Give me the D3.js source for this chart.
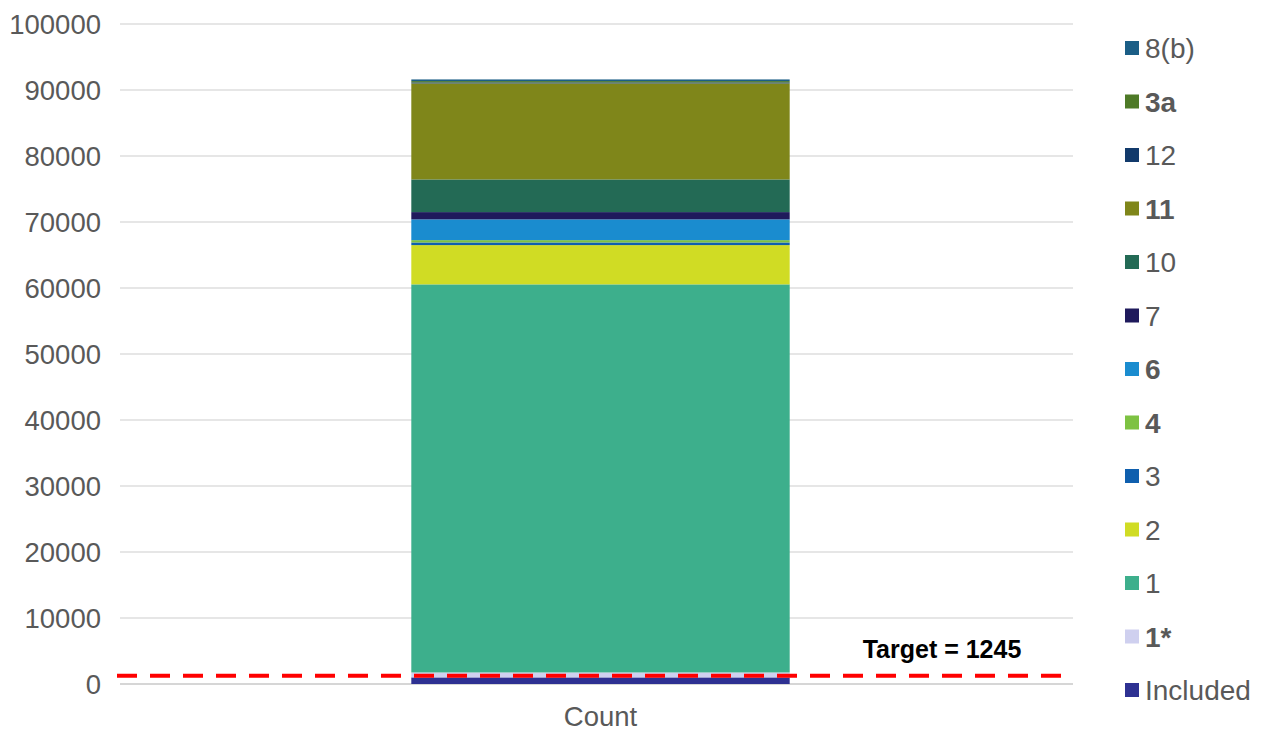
<!DOCTYPE html>
<html>
<head>
<meta charset="utf-8">
<script src="https://cdn.jsdelivr.net/npm/d3@7"></script>
<style>
  body { margin: 0; background: #fff; }
  svg { display: block; font-family: "Liberation Sans", Arial, sans-serif; }
  .tick-label { fill: #595959; font-size: 27.5px; }
  .legend-label { fill: #595959; font-size: 28px; }
  .legend-label.bold { font-weight: bold; font-size: 28px; }
  .target-label { fill: #000; font-size: 25px; font-weight: bold; }
</style>
</head>
<body>
<div id="chart"></div>
<script>
// data
const categories = ["Count"];
const seriesNames = ["Included", "1*", "1", "2", "3", "4", "6", "7", "10", "11", "12", "3a", "8(b)"];
const seriesValues = [1000, 750, 58800, 5950, 400, 350, 3150, 1100, 4950, 14550, 150, 200, 250];
const yTicks = [0, 10000, 20000, 30000, 40000, 50000, 60000, 70000, 80000, 90000, 100000];
const target = 1245;
const targetText = "Target = 1245";

// styles
const seriesColors = ["#2e3192", "#cfd0ef", "#3daf8c", "#d0dc24", "#0f5fae", "#7dc242",
  "#1a8ccf", "#1f1a5c", "#236a55", "#7f861a", "#123a6b", "#4e7a27", "#1b5e86"];
const boldNames = ["1*", "4", "6", "11", "3a"];

const width = 1269, height = 731;
const plot = { left: 124, right: 1077, top: 24, bottom: 684 };

const svg = d3.select('#chart')
  .append('svg')
  .attr('width', width)
  .attr('height', height);

const row = { category: categories[0] };
seriesNames.forEach((n, i) => row[n] = seriesValues[i]);
const stacked = d3.stack().keys(seriesNames)([row]);

const x = d3.scaleBand()
  .domain(categories)
  .range([plot.left, plot.right])
  .padding(0.4316);

const y = d3.scaleLinear()
  .domain([0, 100000])
  .range([plot.bottom, plot.top]);

const color = d3.scaleOrdinal(seriesNames, seriesColors);

// gridlines
svg.append('g')
  .selectAll('line')
  .data(yTicks)
  .enter()
  .append('line')
  .attr('x1', plot.left - 4)
  .attr('x2', plot.right - 4)
  .attr('y1', d => y(d))
  .attr('y2', d => y(d))
  .attr('stroke', d => d === 0 ? '#c8c8c8' : '#dedede')
  .attr('stroke-width', 1.5);

// y tick labels
svg.append('g')
  .selectAll('text')
  .data(yTicks)
  .enter()
  .append('text')
  .attr('class', 'tick-label')
  .attr('text-anchor', 'end')
  .attr('x', 101)
  .attr('y', d => y(d))
  .attr('dy', '0.35em')
  .text(d => d);

// bars
svg.append('g')
  .selectAll('g')
  .data(stacked)
  .enter()
  .append('g')
  .attr('fill', d => color(d.key))
  .selectAll('rect')
  .data(d => d)
  .enter()
  .append('rect')
  .attr('x', d => x(d.data.category))
  .attr('width', x.bandwidth())
  .attr('y', d => y(d[1]))
  .attr('height', d => y(d[0]) - y(d[1]));

// category label
svg.append('text')
  .attr('class', 'tick-label')
  .attr('text-anchor', 'middle')
  .attr('x', x(categories[0]) + x.bandwidth() / 2)
  .attr('y', 726)
  .text(categories[0]);

// target line
svg.append('line')
  .attr('x1', plot.left - 7)
  .attr('x2', 1064)
  .attr('y1', y(target))
  .attr('y2', y(target))
  .attr('stroke', '#ff0000')
  .attr('stroke-width', 4)
  .attr('stroke-dasharray', '20 13');

svg.append('text')
  .attr('class', 'target-label')
  .attr('text-anchor', 'middle')
  .attr('x', 942)
  .attr('y', 658)
  .text(targetText);

// legend, top of stack first
const legendNames = seriesNames.slice().reverse();
const legend = svg.append('g')
  .selectAll('g')
  .data(legendNames)
  .enter()
  .append('g')
  .attr('transform', (d, i) => `translate(1125,${48 + i * 53.5})`);

legend.append('rect')
  .attr('x', 0)
  .attr('y', -7)
  .attr('width', 14)
  .attr('height', 14)
  .attr('fill', d => color(d));

legend.append('text')
  .attr('class', d => boldNames.includes(d) ? 'legend-label bold' : 'legend-label')
  .attr('x', 20)
  .attr('dy', '0.36em')
  .text(d => d);
</script>
</body>
</html>
